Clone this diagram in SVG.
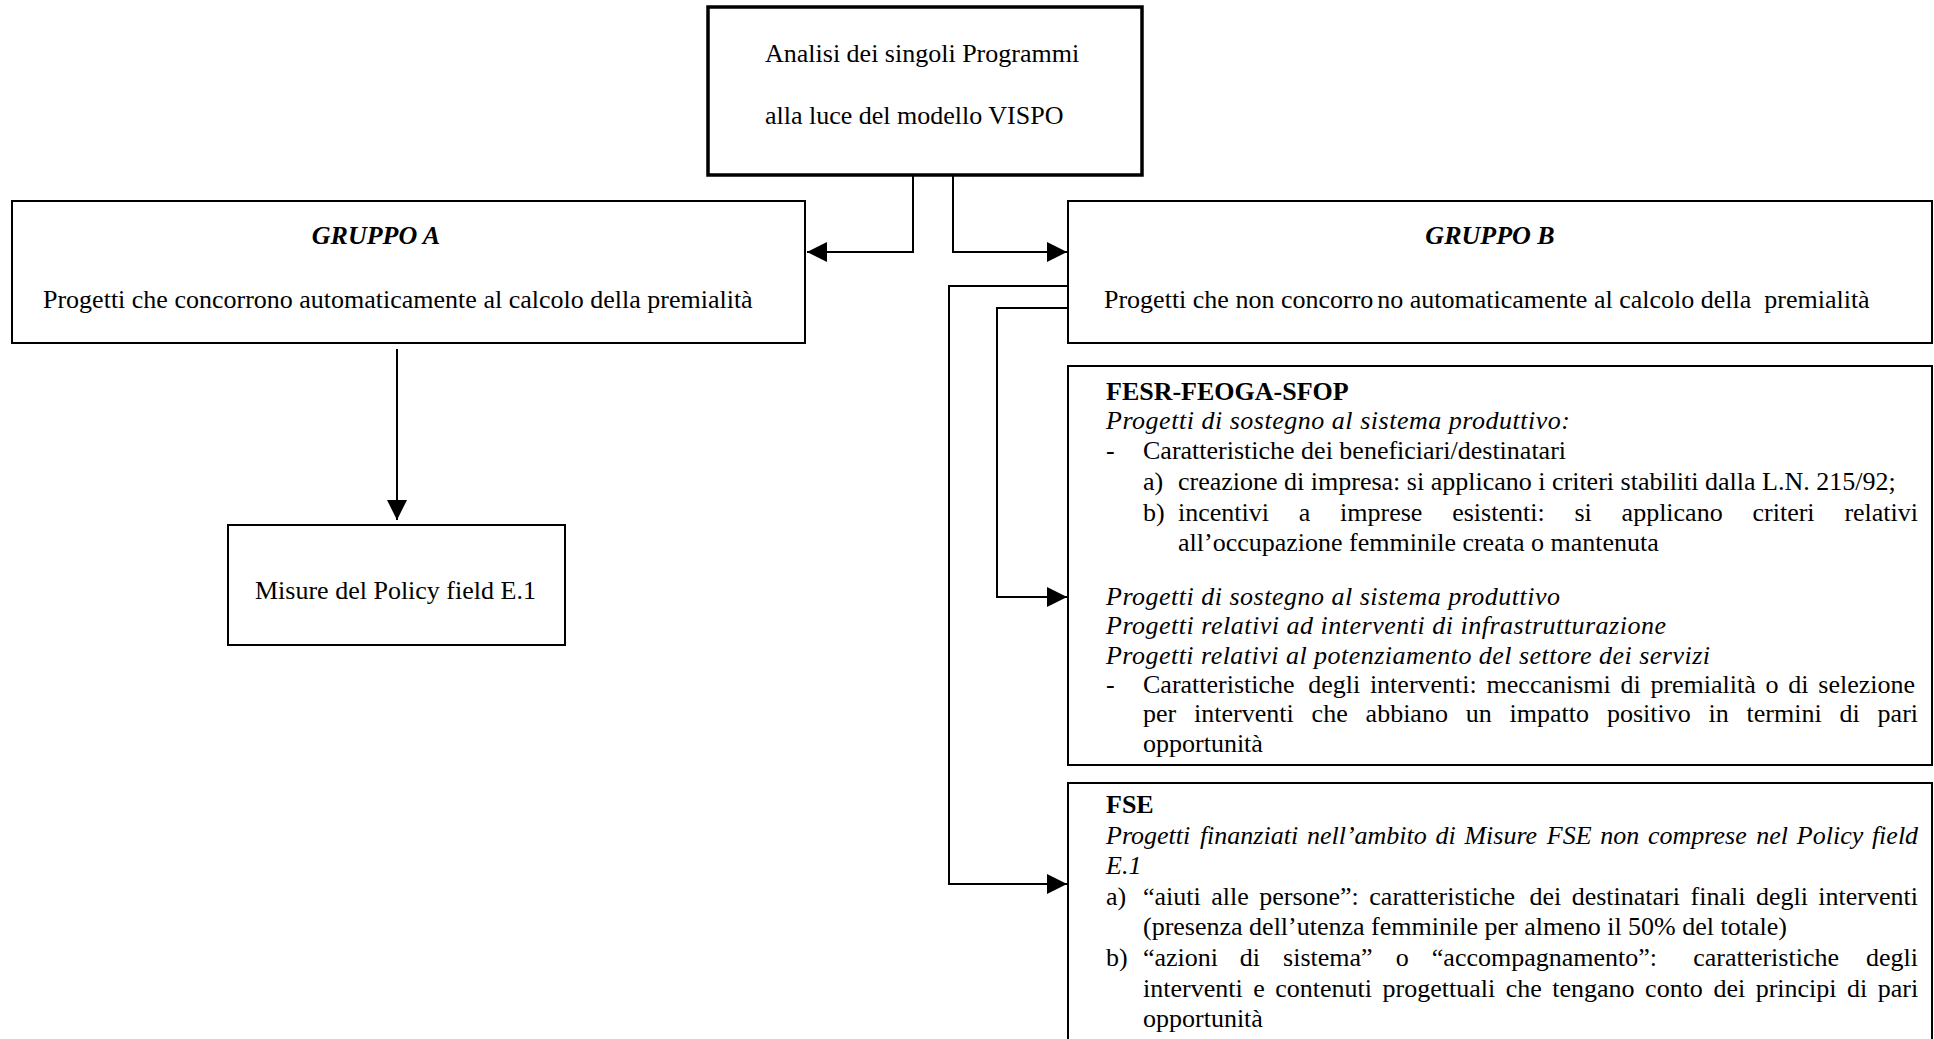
<svg xmlns="http://www.w3.org/2000/svg" width="1934" height="1039" viewBox="0 0 1934 1039">
<style>
text{font-family:"Liberation Serif","Times New Roman",serif;font-size:26px;fill:#000}
.b{font-weight:bold}
.i{font-style:italic}
.bi{font-weight:bold;font-style:italic}
.box{fill:#fff;stroke:#000;stroke-width:2}
.thick{stroke-width:3.5}
.c{fill:none;stroke:#000;stroke-width:2}
</style>
<defs>
<marker id="ah" markerUnits="userSpaceOnUse" markerWidth="20" markerHeight="20" refX="20" refY="10" orient="auto">
<path d="M0,0 L20,10 L0,20 Z" fill="#000"/>
</marker>
</defs>
<rect width="1934" height="1039" fill="#fff"/>

<g id="connectors">
<path class="c" d="M913,175 V252 H807" marker-end="url(#ah)"/>
<path class="c" d="M953,175 V252 H1067" marker-end="url(#ah)"/>
<path class="c" d="M397,349 V520" marker-end="url(#ah)"/>
<path class="c" d="M1068,308 H997 V597 H1067" marker-end="url(#ah)"/>
<path class="c" d="M1068,286 H949 V884 H1067" marker-end="url(#ah)"/>
</g>

<g id="node-analisi">
<rect class="box thick" x="708" y="7" width="434" height="168"/>
<text x="765" y="62">Analisi dei singoli Programmi</text>
<text x="765" y="124">alla luce del modello VISPO</text>
</g>

<g id="node-gruppo-a">
<rect class="box" x="12" y="201" width="793" height="142"/>
<text class="bi" x="376" y="244" text-anchor="middle">GRUPPO A</text>
<text x="43" y="308">Progetti che concorrono automaticamente al calcolo della premialità</text>
</g>

<g id="node-gruppo-b">
<rect class="box" x="1068" y="201" width="864" height="142"/>
<text class="bi" x="1490" y="244" text-anchor="middle">GRUPPO B</text>
<text x="1104" y="308" xml:space="preserve">Progetti che non concorro<tspan dx="4">no</tspan> automaticamente al calcolo della  premialità</text>
</g>

<g id="node-misure">
<rect class="box" x="228" y="525" width="337" height="120"/>
<text x="255" y="599">Misure del Policy field E.1</text>
</g>

<g id="node-fesr">
<rect class="box" x="1068" y="366" width="864" height="399"/>
<text class="b" x="1106" y="400">FESR-FEOGA-SFOP</text>
<text class="i" x="1106" y="429" textLength="464" lengthAdjust="spacing">Progetti di sostegno al sistema produttivo:</text>
<text x="1106" y="459">-</text>
<text x="1143" y="459">Caratteristiche dei beneficiari/destinatari</text>
<text x="1143" y="489.5">a)</text>
<text x="1178" y="489.5">creazione di impresa: si applicano i criteri stabiliti dalla L.N. 215/92;</text>
<text x="1143" y="520.5">b)</text>
<text y="520.5"><tspan x="1178">incentivi</tspan><tspan x="1298.8">a</tspan><tspan x="1340.1">imprese</tspan><tspan x="1452.2">esistenti:</tspan><tspan x="1574.5">si</tspan><tspan x="1621.6">applicano</tspan><tspan x="1752.5">criteri</tspan><tspan x="1844.4">relativi</tspan></text>
<text x="1178" y="551">all’occupazione femminile creata o mantenuta</text>
<text class="i" x="1106" y="604.8" textLength="454" lengthAdjust="spacing">Progetti di sostegno al sistema produttivo</text>
<text class="i" x="1106" y="634.2" textLength="560" lengthAdjust="spacing">Progetti relativi ad interventi di infrastrutturazione</text>
<text class="i" x="1106" y="663.6" textLength="604" lengthAdjust="spacing">Progetti relativi al potenziamento del settore dei servizi</text>
<text x="1106" y="693">-</text>
<text y="693"><tspan x="1143">Caratteristiche</tspan><tspan x="1308.2">degli</tspan><tspan x="1369.9">interventi:</tspan><tspan x="1486.6">meccanismi</tspan><tspan x="1620.5">di</tspan><tspan x="1650.4">premialità</tspan><tspan x="1765.6">o</tspan><tspan x="1788.3">di</tspan><tspan x="1818.3">selezione</tspan></text>
<text y="722.4"><tspan x="1143">per</tspan><tspan x="1194.1">interventi</tspan><tspan x="1311.6">che</tspan><tspan x="1365.6">abbiano</tspan><tspan x="1465.7">un</tspan><tspan x="1509.6">impatto</tspan><tspan x="1606.9">positivo</tspan><tspan x="1708.6">in</tspan><tspan x="1746.6">termini</tspan><tspan x="1839.6">di</tspan><tspan x="1877.6">pari</tspan></text>
<text x="1143" y="751.8">opportunità</text>
</g>

<g id="node-fse">
<rect class="box" x="1068" y="783" width="864" height="262"/>
<text class="b" x="1106" y="813">FSE</text>
<text class="i" y="843.5"><tspan x="1106">Progetti</tspan><tspan x="1199.9">finanziati</tspan><tspan x="1306.9">nell’ambito</tspan><tspan x="1435.5">di</tspan><tspan x="1464.4">Misure</tspan><tspan x="1546.8">FSE</tspan><tspan x="1600.3">non</tspan><tspan x="1648">comprese</tspan><tspan x="1756.3">nel</tspan><tspan x="1796.8">Policy</tspan><tspan x="1871.9">field</tspan></text>
<text class="i" x="1106" y="874">E.1</text>
<text x="1106" y="904.5">a)</text>
<text y="904.5"><tspan x="1143">“aiuti</tspan><tspan x="1211.3">alle</tspan><tspan x="1259.2">persone”:</tspan><tspan x="1369.3">caratteristiche</tspan><tspan x="1529.5">dei</tspan><tspan x="1571.7">destinatari</tspan><tspan x="1690.5">finali</tspan><tspan x="1755.9">degli</tspan><tspan x="1818.3">interventi</tspan></text>
<text x="1143" y="935">(presenza dell’utenza femminile per almeno il 50% del totale)</text>
<text x="1106" y="966">b)</text>
<text y="966"><tspan x="1143">“azioni</tspan><tspan x="1239.8">di</tspan><tspan x="1283.1">sistema”</tspan><tspan x="1395.7">o</tspan><tspan x="1431.8">“accompagnamento”:</tspan><tspan x="1693.2">caratteristiche</tspan><tspan x="1866">degli</tspan></text>
<text y="996.5"><tspan x="1143">interventi</tspan><tspan x="1253.2">e</tspan><tspan x="1275.2">contenuti</tspan><tspan x="1382.5">progettuali</tspan><tspan x="1505.7">che</tspan><tspan x="1552.3">tengano</tspan><tspan x="1645.1">conto</tspan><tspan x="1713.4">dei</tspan><tspan x="1755.7">principi</tspan><tspan x="1847.1">di</tspan><tspan x="1877.8">pari</tspan></text>
<text x="1143" y="1027">opportunità</text>
</g>
</svg>
